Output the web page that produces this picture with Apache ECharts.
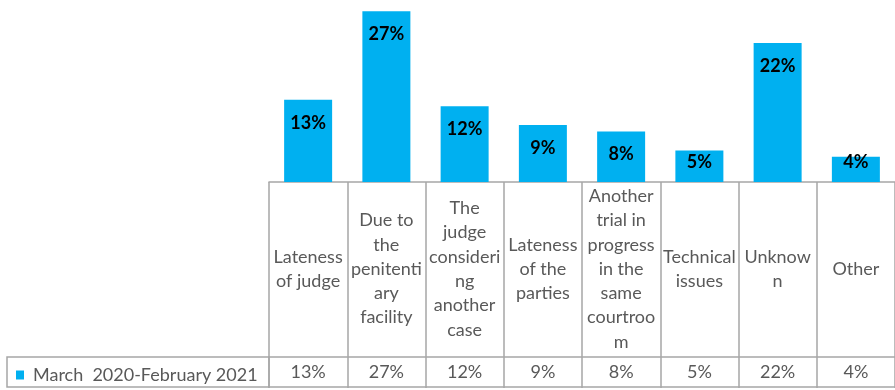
<!DOCTYPE html>
<html>
<head>
<meta charset="utf-8">
<script src="https://cdn.jsdelivr.net/npm/echarts@6/dist/echarts.min.js"></script>
<style>
  html, body { margin: 0; padding: 0; background: #ffffff; }
  #chart { width: 895px; height: 390px; }
</style>
</head>
<body>
<div id="chart"></div>
<script>
// Reasons for postponed hearings, share of all postponements
const seriesName = 'March  2020-February 2021';
const categories = [
  'Lateness\nof judge',
  'Due to\nthe\npenitenti\nary\nfacility',
  'The\njudge\nconsideri\nng\nanother\ncase',
  'Lateness\nof the\nparties',
  'Another\ntrial in\nprogress\nin the\nsame\ncourtroo\nm',
  'Technical\nissues',
  'Unknow\nn',
  'Other'
];
const shares = [13, 27, 12, 9, 8, 5, 22, 4];

const FONT = 'Lato, "Liberation Sans", sans-serif';
const GRID_LINE = '#a6a6a6';
const TEXT_GRAY = '#595959';
const BAR_BLUE = '#00b0f0';

const chart = echarts.init(document.getElementById('chart'), null, { renderer: 'canvas' });

chart.setOption({
  backgroundColor: '#ffffff',
  animation: false,
  grid: { left: 269, right: -3, top: 5, bottom: 208, containLabel: false },
  legend: {
    data: [seriesName],
    left: 11,
    top: 361,
    icon: 'rect',
    itemWidth: 8,
    itemHeight: 9,
    selectedMode: false,
    textStyle: {
      color: TEXT_GRAY,
      fontFamily: FONT,
      fontSize: 18,
      padding: [0, 0, 0, 4]
    }
  },
  xAxis: [
    {
      // category captions row, ticks form the table's column dividers
      type: 'category',
      data: categories,
      position: 'bottom',
      boundaryGap: true,
      axisLine: { show: true, lineStyle: { color: GRID_LINE, width: 1.5 } },
      axisTick: { show: true, length: 206, lineStyle: { color: GRID_LINE, width: 1.5 } },
      axisLabel: {
        interval: 0,
        margin: 87,
        verticalAlign: 'middle',
        align: 'center',
        color: TEXT_GRAY,
        fontFamily: FONT,
        fontSize: 18,
        lineHeight: 24.3
      }
    },
    {
      // values row of the data table
      type: 'category',
      data: categories,
      position: 'bottom',
      offset: 175,
      boundaryGap: true,
      axisLine: { show: true, lineStyle: { color: GRID_LINE, width: 1.5 } },
      axisTick: { show: false },
      axisLabel: {
        interval: 0,
        margin: 15,
        verticalAlign: 'middle',
        align: 'center',
        color: TEXT_GRAY,
        fontFamily: FONT,
        fontSize: 18,
        formatter: (v, i) => shares[i] + '%'
      }
    },
    {
      // bottom border of the data table
      type: 'category',
      data: categories,
      position: 'bottom',
      offset: 205,
      axisLine: { show: true, lineStyle: { color: GRID_LINE, width: 1.5 } },
      axisTick: { show: false },
      axisLabel: { show: false }
    }
  ],
  yAxis: {
    type: 'value',
    min: 0,
    max: 28,
    show: false,
    splitLine: { show: false }
  },
  graphic: [
    {
      // legend cell of the data table
      type: 'rect',
      shape: { x: 7, y: 357, width: 262, height: 30 },
      style: { fill: 'none', stroke: GRID_LINE, lineWidth: 1.5 },
      silent: true
    }
  ],
  series: [
    {
      name: seriesName,
      type: 'bar',
      xAxisIndex: 0,
      data: shares,
      barWidth: 48,
      itemStyle: { color: BAR_BLUE },
      label: {
        show: true,
        position: 'inside',
        formatter: '{c}%',
        color: '#000000',
        fontFamily: FONT,
        fontWeight: 'bold',
        fontSize: 18
      },
      labelLayout: function (params) {
        const r = params.rect;
        const cy = Math.min(r.y + 23, r.y + r.height - 20);
        return { x: r.x + r.width / 2, y: cy, align: 'center', verticalAlign: 'middle' };
      }
    }
  ]
});
</script>
</body>
</html>
